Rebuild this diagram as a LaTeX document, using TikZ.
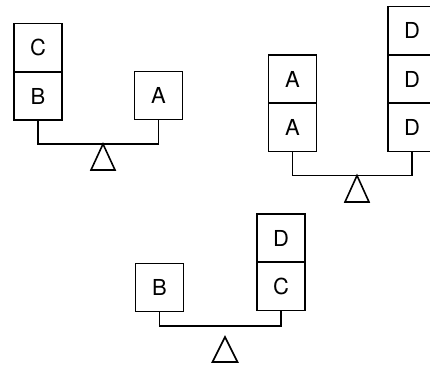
\documentclass[tikz,border=0pt]{standalone}
\usepackage{fontspec}
\setmainfont{TeX Gyre Heros}
\newcommand\blkfont{\fontsize{22pt}{26pt}\selectfont}
\begin{document}
\begin{tikzpicture}[x=1pt,y=-1pt,
  blk/.style={draw,line width=1.6pt,minimum width=48pt,minimum height=48pt,inner sep=0pt,font=\blkfont},
  beam/.style={line width=1.6pt},
  fulcrum/.style={line width=1.6pt,line join=miter}]
\useasboundingbox (0,0) rectangle (430,365);
\clip (0,0) rectangle (430,365);
% scale 1
\node[blk] (c1) at (38,47.5) {C};
\node[blk] (b1) at (38,96) {B};
\node[blk] (a1) at (158.5,95.5) {A};
\coordinate (p1) at (103,144);
\draw[beam] (b1.south) |- (p1) -| (a1.south);
\draw[fulcrum] (p1) -- ++(-12,26) -- ++(24,0) -- cycle;
% scale 2
\node[blk] (a2t) at (292.5,79) {A};
\node[blk] (a2b) at (292.5,127.5) {A};
\node[blk] (d2t) at (412,30.5) {D};
\node[blk] (d2m) at (412,79) {D};
\node[blk] (d2b) at (412,127.5) {D};
\coordinate (p2) at (357,175.5);
\draw[beam] (a2b.south) |- (p2) -| (d2b.south);
\draw[fulcrum] (p2) -- ++(-12,26.5) -- ++(24,0) -- cycle;
% scale 3
\node[blk] (b3) at (159.5,287.5) {B};
\node[blk] (d3) at (281,238) {D};
\node[blk] (c3) at (281,286.5) {C};
\coordinate (q3) at (225,326);
\coordinate (p3) at (225,337);
\draw[beam] (b3.south) |- (q3) -| (c3.south);
\draw[fulcrum] (p3) -- ++(-12.5,25) -- ++(25,0) -- cycle;
\end{tikzpicture}
\end{document}
